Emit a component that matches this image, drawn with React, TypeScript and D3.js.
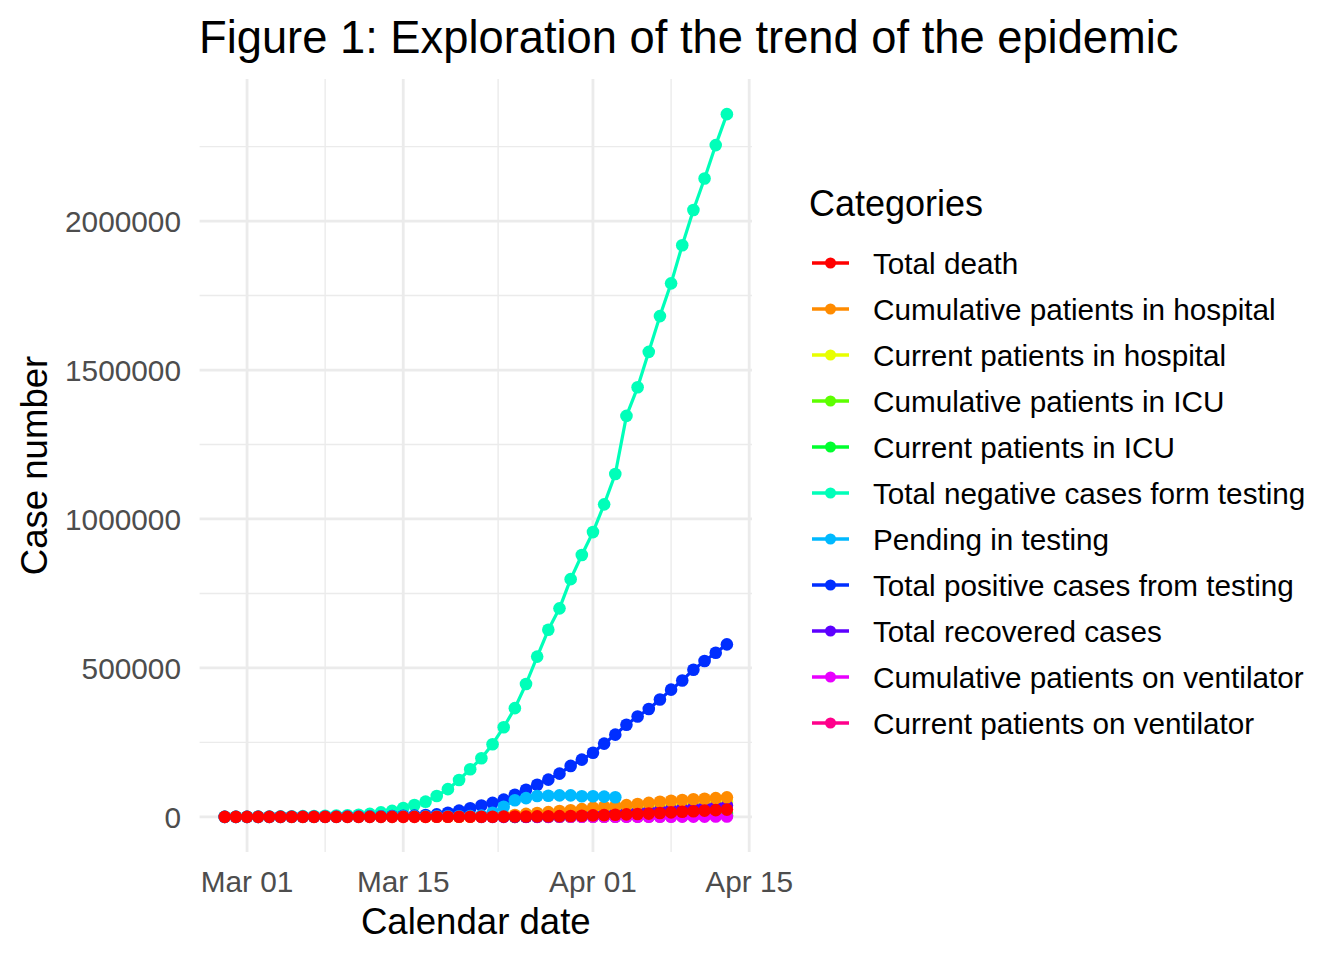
import * as d3 from "d3"

// x categories: one row per reporting day
const dates = [
  "2020-02-28", "2020-02-29",
  "2020-03-01", "2020-03-02", "2020-03-03", "2020-03-04", "2020-03-05", "2020-03-06", "2020-03-07", "2020-03-08", "2020-03-09", "2020-03-10",
  "2020-03-11", "2020-03-12", "2020-03-13", "2020-03-14", "2020-03-15", "2020-03-16", "2020-03-17", "2020-03-18", "2020-03-19", "2020-03-20",
  "2020-03-21", "2020-03-22", "2020-03-23", "2020-03-24", "2020-03-25", "2020-03-26", "2020-03-27", "2020-03-28", "2020-03-29", "2020-03-30",
  "2020-03-31",
  "2020-04-01", "2020-04-02", "2020-04-03", "2020-04-04", "2020-04-05", "2020-04-06", "2020-04-07", "2020-04-08", "2020-04-09", "2020-04-10",
  "2020-04-11", "2020-04-12", "2020-04-13",
]

type V = number | null
const N18: V[] = Array(18).fill(null)
const N21: V[] = Array(21).fill(null)
const N23: V[] = Array(23).fill(null)
const N26: V[] = Array(26).fill(null)
const N27: V[] = Array(27).fill(null)

const totalDeath: V[] = [
  0, 1,
  1, 6, 9, 11, 12, 14, 16, 19, 22, 28,
  33, 38, 47, 55, 64, 83, 100, 132, 176, 229,
  306, 418, 553, 775, 1010, 1320, 1670, 2150, 2540, 3050,
  3860,
  4900, 5900, 7100, 8400, 9600, 11000, 13000, 15000, 17000, 19000, 20900, 22600, 24400,
]

const cumHospital: V[] = [
  ...N18,
  325, 416, 617, 1040, 1490, 2550, 3330, 4470, 6140, 10100, 13000, 16000, 19500, 22300, 26000,
  31000, 34000, 36500, 39500, 43000, 47000, 50500, 54000, 56500, 59000, 61000, 63000, 65500,
]

const curHospital: V[] = [
  ...N21,
  600, 900, 1400, 2000, 2800, 3900, 5200, 6800, 9000, 11500, 14000, 17000,
  20000, 22500, 25000, 27500, 30000, 32500, 35000, 38000, 41000, 43500, 46000, 48500, 50000,
]

const cumIcu: V[] = [
  ...N26,
  100, 200, 300, 400, 500, 600, 800,
  1000, 1200, 1400, 1600, 1800, 2000, 2300, 2600, 2900, 3200, 3500, 3800, 4100,
]

const curIcu: V[] = [
  ...N26,
  400, 600, 800, 1000, 1300, 1600, 2000,
  2500, 3000, 3500, 4000, 4600, 5200, 5800, 6400, 7000, 7600, 8200, 8800, 9400,
]

const totalNegative: V[] = [
  300, 400,
  500, 700, 1000, 1500, 2000, 2500, 3000, 3600, 4500, 5500,
  7000, 10000, 15000, 20000, 30000, 40000, 51000, 70000, 93000, 124000,
  160000, 197000, 244000, 301000, 365000, 446000, 538000, 628000, 700000, 798000,
  879000,
  956000, 1049000, 1151000, 1346000, 1442000, 1561000, 1681000, 1791000, 1919000, 2037000, 2143000, 2255000, 2359000,
]

const pending: V[] = [
  60, 70,
  80, 100, 150, 200, 300, 400, 500, 700, 900, 1000,
  1100, 1200, 1300, 1400, 1500, 1500, 1500, 1800, 2000, 2200,
  2500, 4000, 14000, 34000, 56000, 63000, 70000, 71000, 72000, 72000,
  69000,
  69000, 68000, 66000, null, null, null, null, null, null, null, null, null, null,
]

const totalPositive: V[] = [
  20, 25,
  30, 50, 80, 120, 180, 250, 350, 450, 600, 800,
  1100, 1600, 2200, 2800, 3500, 4500, 6000, 8500, 14000, 21000,
  29000, 38000, 47000, 58000, 74000, 91000, 108000, 125000, 145000, 171000,
  192000,
  215000, 246000, 276000, 309000, 337000, 362000, 394000, 427000, 458000, 494000, 523000, 551000, 579000,
]

const recovered: V[] = [
  ...N23,
  0, 0, 0, 100, 500, 1000, 1700, 2600, 4000, 5500,
  8000, 10000, 12000, 15000, 18000, 20000, 22500, 25500, 28000, 30500, 33000, 35500, 38500,
]

const cumVentilator: V[] = [
  ...N27,
  50, 80, 100, 130, 170, 200,
  250, 300, 350, 400, 450, 500, 550, 600, 700, 800, 900, 1000, 1100,
]

const curVentilator: V[] = [
  ...N27,
  150, 250, 350, 450, 600, 800,
  1000, 1200, 1400, 1600, 1900, 2200, 2500, 2800, 3100, 3400, 3700, 4000, 4300,
]

const categoryLabels = [
  "Total death",
  "Cumulative patients in hospital",
  "Current patients in hospital",
  "Cumulative patients in ICU",
  "Current patients in ICU",
  "Total negative cases form testing",
  "Pending in testing",
  "Total positive cases from testing",
  "Total recovered cases",
  "Cumulative patients on ventilator",
  "Current patients on ventilator",
]

const seriesValues = [
  totalDeath, cumHospital, curHospital, cumIcu, curIcu, totalNegative,
  pending, totalPositive, recovered, cumVentilator, curVentilator,
]

const palette = [
  "#FF0000", "#FF8B00", "#E8FF00", "#5DFF00", "#00FF2E", "#00FFB9",
  "#00B9FF", "#002EFF", "#5D00FF", "#E800FF", "#FF008B",
]

// painting order, bottom first
const drawOrder = [10, 2, 3, 4, 9, 8, 1, 5, 7, 6, 0]

const yTicks = [0, 500000, 1000000, 1500000, 2000000]
const xTicks = ["2020-03-01", "2020-03-15", "2020-04-01", "2020-04-15"]

const FONT = "'Liberation Sans', Arial, Helvetica, sans-serif"

export default function App() {
  const width = 1344
  const height = 960
  const panel = { left: 199.6, right: 752, top: 79, bottom: 852 }

  const parse = d3.utcParse("%Y-%m-%d")
  const days = dates.map((d) => parse(d) as Date)

  const [d0, d1] = d3.extent(days) as [Date, Date]
  const span = +d1 - +d0
  const x = d3
    .scaleUtc()
    .domain([new Date(+d0 - span * 0.05), new Date(+d1 + span * 0.05)])
    .range([panel.left, panel.right])

  const yMax = d3.max(seriesValues.flat(), (v) => v ?? 0) as number
  const y = d3
    .scaleLinear()
    .domain([-yMax * 0.05, yMax * 1.05])
    .range([panel.bottom, panel.top])

  const xMajor = xTicks.map((d) => parse(d) as Date)
  const xMinor = d3.pairs(xMajor).map(([a, b]) => new Date((+a + +b) / 2))
  const yMinor = yTicks.map((t) => t + 250000).filter((t) => t <= y.domain()[1])

  const line = d3
    .line<V>()
    .defined((v) => v != null)
    .x((_, i) => x(days[i]))
    .y((v) => y(v as number))

  const fmt = d3.format("d")
  const dateFmt = d3.utcFormat("%b %d")
  const grid = "#EBEBEB"

  const legendX = 809
  const legendTop = 263
  const legendStep = 46

  return (
    <div style={{ position: "absolute", left: 0, top: 0 }}>
      <svg width={width} height={height} style={{ display: "block", background: "#fff" }} fontFamily={FONT}>
        {/* grid */}
        <g>
          {yMinor.map((t) => (
            <line key={"ym" + t} x1={panel.left} x2={panel.right} y1={y(t)} y2={y(t)} stroke={grid} strokeWidth={1.4} />
          ))}
          {xMinor.map((t) => (
            <line key={"xm" + +t} x1={x(t)} x2={x(t)} y1={panel.top} y2={panel.bottom} stroke={grid} strokeWidth={1.4} />
          ))}
          {yTicks.map((t) => (
            <line key={"y" + t} x1={panel.left} x2={panel.right} y1={y(t)} y2={y(t)} stroke={grid} strokeWidth={2.8} />
          ))}
          {xMajor.map((t) => (
            <line key={"x" + +t} x1={x(t)} x2={x(t)} y1={panel.top} y2={panel.bottom} stroke={grid} strokeWidth={2.8} />
          ))}
        </g>

        {/* lines */}
        <g fill="none" strokeWidth={3.2} strokeLinejoin="round">
          {drawOrder.map((k) => (
            <path key={"l" + k} d={line(seriesValues[k]) ?? ""} stroke={palette[k]} />
          ))}
        </g>

        {/* points */}
        <g>
          {drawOrder.map((k) => (
            <g key={"p" + k} fill={palette[k]}>
              {seriesValues[k].map((v, i) =>
                v == null ? null : <circle key={i} cx={x(days[i])} cy={y(v)} r={6.3} />,
              )}
            </g>
          ))}
        </g>

        {/* axes text */}
        <g fontSize={29.8} fill="#4D4D4D">
          {yTicks.map((t) => (
            <text key={"yt" + t} x={181} y={y(t)} dy="0.36em" textAnchor="end">
              {fmt(t)}
            </text>
          ))}
          {xMajor.map((t) => (
            <text key={"xt" + +t} x={x(t)} y={892} textAnchor="middle">
              {dateFmt(t)}
            </text>
          ))}
        </g>

        <text x={(panel.left + panel.right) / 2} y={934} textAnchor="middle" fontSize={36.6} fill="#000">
          Calendar date
        </text>
        <text
          transform={`translate(47,${(panel.top + panel.bottom) / 2}) rotate(-90)`}
          textAnchor="middle"
          fontSize={36.6}
          fill="#000"
        >
          Case number
        </text>

        <text x={199} y={53} fontSize={45.3} fill="#000">
          Figure 1: Exploration of the trend of the epidemic
        </text>

        {/* legend */}
        <text x={legendX} y={216} fontSize={36} fill="#000">
          Categories
        </text>
        {categoryLabels.map((label, k) => {
          const cy = legendTop + k * legendStep
          return (
            <g key={"lg" + k}>
              <line x1={812} x2={849} y1={cy} y2={cy} stroke={palette[k]} strokeWidth={3.4} />
              <circle cx={830.5} cy={cy} r={5.5} fill={palette[k]} />
              <text x={873} y={cy} dy="0.36em" fontSize={29.7} fill="#000">
                {label}
              </text>
            </g>
          )
        })}
      </svg>
    </div>
  )
}
